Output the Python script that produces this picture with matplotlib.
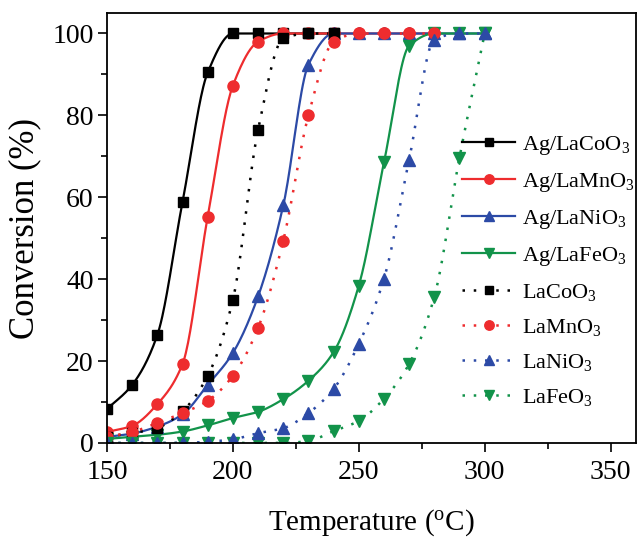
import numpy as np
import matplotlib
matplotlib.use("Agg")
import matplotlib.pyplot as plt
from matplotlib.lines import Line2D
from matplotlib.ticker import MultipleLocator

plt.rcParams['font.family'] = ['Liberation Serif', 'DejaVu Serif']
plt.rcParams['mathtext.fontset'] = 'custom'
plt.rcParams['mathtext.rm'] = 'Liberation Serif'
plt.rcParams['mathtext.it'] = 'Liberation Serif:italic'

# conversion (%), temperature in degC
t_co = [150, 160, 170, 180, 190, 200, 210, 220, 230, 240]
t_mn = [150, 160, 170, 180, 190, 200, 210, 220, 230, 240, 250, 260, 270, 280]
t_full = [150, 160, 170, 180, 190, 200, 210, 220, 230, 240, 250, 260, 270, 280, 290, 300]

ag_co = [8.3, 14.2, 26.4, 58.9, 90.5, 100, 100, 100, 100, 100]
ag_mn = [2.7, 4.2, 9.5, 19.3, 55.3, 87.3, 98, 100, 100, 100, 100, 100, 100, 100]
ag_ni = [1.5, 2.3, 4.0, 7.0, 14.2, 22, 35.8, 58, 92.4, 100, 100, 100, 100, 100, 100, 100]
ag_fe = [1.0, 1.5, 2.0, 2.8, 4.3, 6.1, 7.6, 10.7, 15.2, 22.2, 38.4, 68.5, 97, 100, 100, 100]
co = [1.5, 2.4, 3.7, 7.8, 16.4, 35, 76.5, 98.8, 100, 100]
mn = [1.5, 2.7, 4.9, 7.3, 10.3, 16.4, 28.1, 49.4, 80, 98, 100, 100, 100, 100]
ni = [0, 0, 0, 0, 0.3, 0.9, 2.4, 3.6, 7.3, 13.2, 24.2, 40.1, 69.2, 98.5, 100, 100]
fe = [0, 0, 0, 0, 0, 0, 0, 0, 0.5, 2.9, 5.4, 10.8, 19.3, 35.7, 69.7, 100]

labels = [r'Ag/LaCoO$_3$', r'Ag/LaMnO$_3$', r'Ag/LaNiO$_3$', r'Ag/LaFeO$_3$',
          r'LaCoO$_3$', r'LaMnO$_3$', r'LaNiO$_3$', r'LaFeO$_3$']

black = 'black'
red = '#ee2c2e'
blue = '#2c4aa6'
green = '#12934a'


def smooth(x, y, n=300):
    # monotone cubic (Fritsch-Carlson) just for drawing the curve
    x = np.asarray(x, float)
    y = np.asarray(y, float)
    h = np.diff(x)
    d = np.diff(y) / h
    m = np.zeros_like(y)
    m[0], m[-1] = d[0], d[-1]
    for i in range(1, len(x) - 1):
        if d[i - 1] * d[i] <= 0:
            m[i] = 0
        else:
            w1 = 2 * h[i] + h[i - 1]
            w2 = h[i] + 2 * h[i - 1]
            m[i] = (w1 + w2) / (w1 / d[i - 1] + w2 / d[i])
    xs = np.linspace(x[0], x[-1], n)
    k = np.clip(np.searchsorted(x, xs) - 1, 0, len(x) - 2)
    t = (xs - x[k]) / h[k]
    h00 = 2 * t**3 - 3 * t**2 + 1
    h10 = t**3 - 2 * t**2 + t
    h01 = -2 * t**3 + 3 * t**2
    h11 = t**3 - t**2
    ys = h00 * y[k] + h10 * h[k] * m[k] + h01 * y[k + 1] + h11 * h[k] * m[k + 1]
    return xs, ys


series = [
    (t_co, ag_co, black, '-', 's', 7, 2),
    (t_mn, ag_mn, red, '-', 'o', 8, 2),
    (t_full, ag_ni, blue, '-', '^', 8.5, 2),
    (t_full, ag_fe, green, '-', 'v', 8.5, 2),
    (t_co, co, black, (0, (1, 3.5)), 's', 7, 2),
    (t_mn, mn, red, (0, (1, 3.5)), 'o', 8, 2),
    (t_full, ni, blue, (0, (1, 3.5)), '^', 8.5, 2.2),
    (t_full, fe, green, (0, (1, 3.5)), 'v', 8.5, 2.1),
]

fig = plt.figure(figsize=(6.37, 5.38), dpi=100)
ax = fig.add_axes([0.168, 0.1766, 0.830, 0.7992])

handles = []
for (x, y, c, ls, mk, ms, z), lab in zip(series, labels):
    xs, ys = smooth(x, y)
    lw = 1.6 if ls == '-' else 1.8
    ax.plot(xs, ys, color=c, ls=ls, lw=lw, zorder=z)
    ax.plot(x, y, ls='none', marker=mk, ms=ms, color=c, zorder=z + 0.1)
    handles.append(Line2D([], [], color=c, ls=ls, lw=lw, marker=mk, ms=ms * 0.85))

ax.set_xlim(150, 360)
ax.set_ylim(0, 105)
ax.xaxis.set_major_locator(MultipleLocator(50))
ax.xaxis.set_minor_locator(MultipleLocator(25))
ax.yaxis.set_major_locator(MultipleLocator(20))
ax.yaxis.set_minor_locator(MultipleLocator(10))
ax.tick_params(which='both', direction='out', top=False, right=False, width=1.2)
ax.tick_params(which='major', length=6.5, labelsize=20, pad=3)
ax.tick_params(axis='x', which='major', pad=6)
ax.tick_params(which='minor', length=4)
for s in ax.spines.values():
    s.set_linewidth(1.3)

ax.set_xlabel(r'Temperature ($^\mathrm{o}$C)', fontsize=21, labelpad=16)
ax.set_ylabel('Conversion (%)', fontsize=25, labelpad=8)

leg = ax.legend(handles, labels, loc='upper left', bbox_to_anchor=(0.708, 0.772),
                bbox_transform=fig.transFigure, frameon=False, fontsize=16,
                handlelength=2.4, handletextpad=0.3, labelspacing=0.63,
                borderpad=0)

fig.savefig('out.png', dpi=100)
